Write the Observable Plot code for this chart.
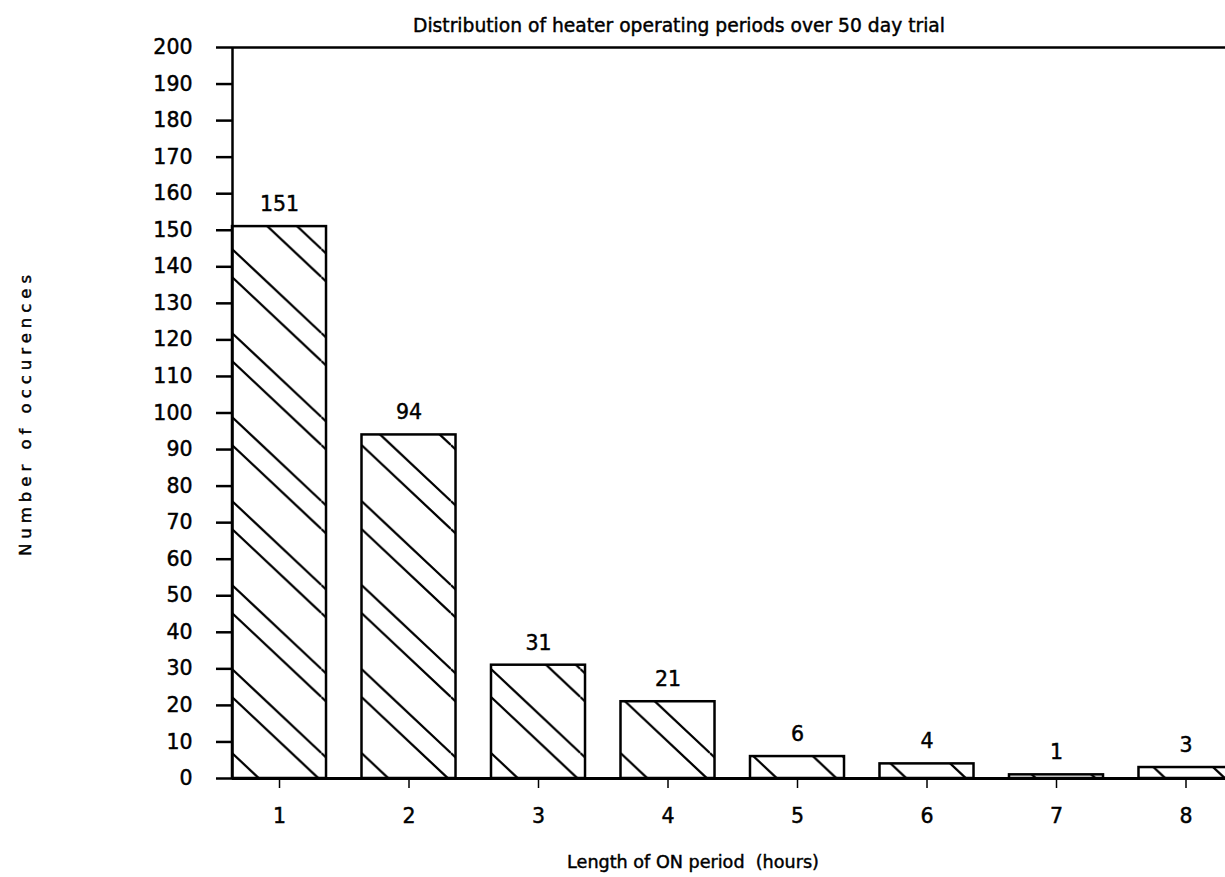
<!DOCTYPE html>
<html><head><meta charset="utf-8">
<script src="https://cdn.jsdelivr.net/npm/d3@7"></script>
<script src="https://cdn.jsdelivr.net/npm/@observablehq/plot@0.6"></script>
<style>
html,body{margin:0;padding:0;background:#fff;overflow:hidden}
svg text{stroke:#000;stroke-width:0.45px}
.ylab text{letter-spacing:5px}
</style>
</head><body><div id="chart"></div>
<script>
const hours = [1, 2, 3, 4, 5, 6, 7, 8];
const counts = [151, 94, 31, 21, 6, 4, 1, 3];
const yTicks = [0, 10, 20, 30, 40, 50, 60, 70, 80, 90, 100, 110, 120, 130, 140, 150, 160, 170, 180, 190, 200];
const xTicks = [1, 2, 3, 4, 5, 6, 7, 8];
const title = "Distribution of heater operating periods over 50 day trial";
const xLabel = "Length of ON period  (hours)";
const yLabel = "Number of occurences";
const xDomain = [0.637, 8.305];
const yDomain = [0, 200];
const barHalf = 0.363;

const data = hours.map((h, i) => ({hours: h, count: counts[i]}));

const plot = Plot.plot({
  width: 1225, height: 877,
  marginLeft: 232, marginRight: 0, marginTop: 47, marginBottom: 99,
  style: {fontFamily: "DejaVu Sans", fontSize: "20px", color: "#000", background: "#fff"},
  x: {domain: xDomain},
  y: {domain: yDomain},
  marks: [
    Plot.rectY(data, {x1: d => d.hours - barHalf, x2: d => d.hours + barHalf, y: "count", stroke: "#000", strokeWidth: 2.5, fill: "none"}),
    Plot.text(data, {x: "hours", y: "count", text: "count", dy: -22, lineAnchor: "middle", fontSize: 20.5}),
    Plot.ruleY([0], {strokeWidth: 3}),
    Plot.ruleY([200], {strokeWidth: 2.5}),
    Plot.ruleX([xDomain[0]], {strokeWidth: 2.5}),
    Plot.axisY({ticks: yTicks, tickSize: 16, tickPadding: 24, strokeWidth: 2.5, label: null, fontSize: 20.5}),
    Plot.axisX({ticks: xTicks, tickSize: 10, tickPadding: 20, strokeWidth: 1.5, label: null, fontSize: 20.5}),
    Plot.text([title], {frameAnchor: "top", dy: -21, dx: -50, lineAnchor: "middle", fontSize: 18.7}),
    Plot.text([xLabel], {frameAnchor: "bottom", dy: 84, dx: -36, lineAnchor: "middle", fontSize: 17.6}),
    Plot.text([yLabel], {frameAnchor: "left", dx: -207, rotate: -90, textAnchor: "middle", lineAnchor: "middle", fontSize: 16.5, className: "ylab"})
  ]
});

// hatch fill anchored at each bar's bottom-left corner
const ns = "http://www.w3.org/2000/svg";
const defs = document.createElementNS(ns, "defs");
plot.insertBefore(defs, plot.firstChild);
const P = 84, s = 0.94, W = P / s;
plot.querySelectorAll('g[aria-label="rect"] rect').forEach((r, i) => {
  const x = +r.getAttribute("x"), y = +r.getAttribute("y"), h = +r.getAttribute("height");
  const pat = document.createElementNS(ns, "pattern");
  pat.setAttribute("id", "hatch" + i);
  pat.setAttribute("patternUnits", "userSpaceOnUse");
  pat.setAttribute("x", x);
  pat.setAttribute("y", y + h);
  pat.setAttribute("width", W);
  pat.setAttribute("height", P);
  let d = "";
  for (const c of [3, 59]) for (const k of [-1, 0, 1]) d += `M0,${c + k * P}L${W},${c + k * P + P}`;
  const path = document.createElementNS(ns, "path");
  path.setAttribute("d", d);
  path.setAttribute("stroke", "#000");
  path.setAttribute("stroke-width", "2.3");
  path.setAttribute("fill", "none");
  pat.appendChild(path);
  defs.appendChild(pat);
  r.setAttribute("fill", `url(#hatch${i})`);
});

document.getElementById("chart").appendChild(plot);
</script>
</body></html>
